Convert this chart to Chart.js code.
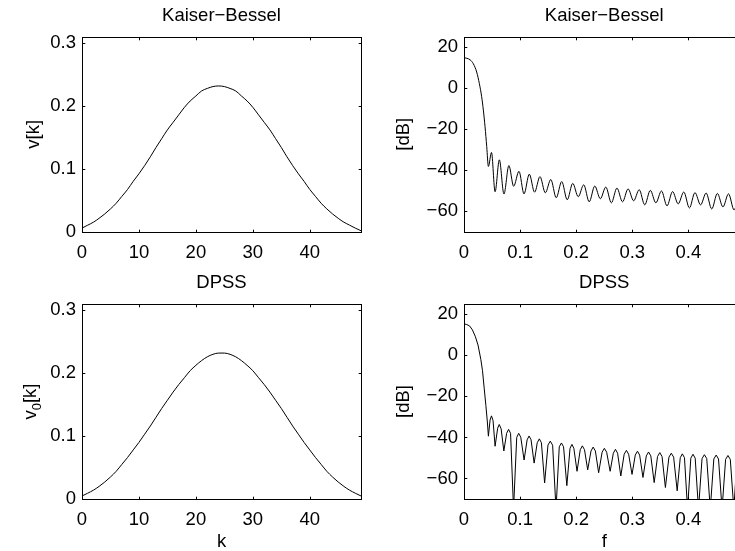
<!DOCTYPE html>
<html>
<head>
<meta charset="utf-8">
<script src="https://cdn.jsdelivr.net/npm/chart.js@4.4.1/dist/chart.umd.min.js"></script>
<style>
html, body { margin: 0; padding: 0; width: 735px; height: 551px; overflow: hidden; background: #fff; }
canvas { position: absolute; left: 0; top: 0; }
</style>
</head>
<body>
<canvas id="kbWin" width="760" height="551"></canvas>
<canvas id="kbSpec" width="760" height="551"></canvas>
<canvas id="dpssWin" width="760" height="551"></canvas>
<canvas id="dpssSpec" width="760" height="551"></canvas>
<script>
// Window samples v[k], k = 0..49
const kbWindow = [0.0054, 0.0101, 0.0148, 0.021, 0.028, 0.036, 0.045, 0.056, 0.067, 0.080,
  0.092, 0.105, 0.119, 0.134, 0.148, 0.162, 0.174, 0.186, 0.198, 0.208,
  0.216, 0.224, 0.228, 0.231, 0.232, 0.231, 0.228, 0.224, 0.216, 0.208,
  0.198, 0.186, 0.174, 0.162, 0.148, 0.134, 0.119, 0.105, 0.092, 0.080,
  0.067, 0.056, 0.045, 0.036, 0.028, 0.021, 0.0148, 0.0101, 0.0054, 0.0012];
const dpssWindow = [0.0048, 0.0092, 0.014, 0.020, 0.027, 0.035, 0.044, 0.055, 0.066, 0.078,
  0.090, 0.103, 0.116, 0.130, 0.144, 0.157, 0.170, 0.182, 0.193, 0.204,
  0.2125, 0.220, 0.226, 0.230, 0.232, 0.232, 0.230, 0.226, 0.220, 0.2125,
  0.204, 0.193, 0.182, 0.170, 0.157, 0.144, 0.130, 0.116, 0.103, 0.090,
  0.078, 0.066, 0.055, 0.044, 0.035, 0.027, 0.020, 0.014, 0.0092, 0.0048];

// Magnitude responses in dB
const kbFreq = [0, 0.005, 0.0107, 0.0167, 0.0226, 0.0274, 0.0315, 0.0345, 0.0375, 0.0405, 0.0435,
  0.049, 0.0554, 0.063, 0.0712, 0.080, 0.0885, 0.098, 0.107, 0.1164, 0.1258,
  0.1354, 0.145, 0.1547, 0.1644, 0.1742, 0.184, 0.1938, 0.2036, 0.2134, 0.2232,
  0.2331, 0.243, 0.2528, 0.2627, 0.2726, 0.2826, 0.2925, 0.3024, 0.3123, 0.3222,
  0.3321, 0.342, 0.352, 0.3619, 0.3718, 0.3818, 0.3918, 0.4018, 0.4117, 0.4217,
  0.4316, 0.4416, 0.4516, 0.4616, 0.4715, 0.4815, 0.4915, 0.5];
const kbDb = [14.9, 14.6, 13.9, 11.9, 7.9, 2.2, -4.2, -10.7, -18.8, -28.5, -38.2,
  -31.4, -50.6, -35.0, -51.7, -37.8, -47.9, -40.6, -51.6, -42.0, -50.8,
  -43.2, -51.1, -44.6, -53.5, -45.6, -54.5, -46.5, -53.0, -47.2, -55.5,
  -47.8, -54.0, -48.3, -56.0, -48.8, -55.5, -49.2, -55.0, -49.6, -57.0,
  -49.9, -56.0, -50.2, -57.5, -50.5, -56.5, -50.7, -58.5, -51.0, -57.0,
  -51.2, -59.0, -51.4, -58.0, -51.6, -59.5, -51.8, -56.0];

const dpssFreq = [0, 0.005, 0.01, 0.015, 0.02, 0.025, 0.03, 0.033, 0.036, 0.039, 0.0415, 0.0435,
  0.0465, 0.049, 0.0518, 0.0554,
  0.060, 0.0628, 0.0662, 0.071,
  0.076, 0.0795, 0.083, 0.0883,
  0.094, 0.0975, 0.1012, 0.1071,
  0.1125, 0.116, 0.1195, 0.125,
  0.1305, 0.1343, 0.138, 0.1437,
  0.1497, 0.1538, 0.158, 0.164,
  0.1698, 0.1737, 0.1775, 0.1833,
  0.189, 0.1924, 0.1958, 0.2015,
  0.2072, 0.211, 0.2148, 0.2205,
  0.2264, 0.2302, 0.2342, 0.240,
  0.2462, 0.2502, 0.2543, 0.2605,
  0.2662, 0.270, 0.2738, 0.2795,
  0.2855, 0.2895, 0.2935, 0.2995,
  0.3053, 0.3092, 0.3131, 0.319,
  0.325, 0.329, 0.333, 0.339,
  0.345, 0.349, 0.353, 0.359,
  0.3653, 0.3695, 0.3737, 0.380,
  0.3855, 0.3892, 0.393, 0.3985,
  0.4043, 0.4082, 0.4121, 0.418,
  0.4243, 0.4285, 0.4327, 0.439,
  0.4453, 0.4495, 0.4537, 0.460,
  0.4663, 0.4705, 0.4747, 0.481,
  0.4865, 0.4905, 0.4945, 0.5];
const dpssDb = [15.3, 15.0, 14.3, 12.4, 9.3, 5.0, -2.0, -7.5, -16.0, -24.5, -32.0, -39.4,
  -31.5, -29.5, -31.8, -44.3,
  -35.5, -33.7, -35.8, -46.6,
  -38.0, -36.1, -38.0, -75,
  -40.0, -38.0, -39.9, -51.0,
  -41.2, -39.3, -41.1, -52.5,
  -42.6, -40.7, -42.6, -62.2,
  -43.7, -41.8, -43.8, -75,
  -44.6, -42.7, -44.6, -63.5,
  -45.3, -43.4, -45.3, -56.5,
  -46.0, -44.1, -46.0, -55.8,
  -46.6, -44.7, -46.6, -57.2,
  -47.2, -45.3, -47.2, -56.5,
  -47.7, -45.8, -47.7, -58.8,
  -48.2, -46.3, -48.2, -58.0,
  -48.6, -46.7, -48.6, -59.5,
  -49.0, -47.1, -49.0, -62.0,
  -49.3, -47.4, -49.3, -64.4,
  -49.6, -47.7, -49.6, -66.0,
  -49.9, -48.0, -49.9, -75,
  -50.1, -48.2, -50.1, -75,
  -50.3, -48.4, -50.3, -75,
  -50.5, -48.6, -50.5, -75,
  -50.7, -48.8, -50.7, -75,
  -50.9, -49.0, -50.9, -62];

// Tick values
const kTicks = [0, 10, 20, 30, 40];
const vTicks = [0, 0.1, 0.2, 0.3];
const fTicks = [0, 0.1, 0.2, 0.3, 0.4];
const dbTicks = [-60, -40, -20, 0, 20];

const FONT = "'Liberation Sans', Arial, Helvetica, sans-serif";
const FONT_SIZE = 18.5;
const TICK_LEN = 2.8;
const CANVAS_W = 760, CANVAS_H = 551;
const Y_W = 60, X_H = 30;

Chart.defaults.font.family = FONT;
Chart.defaults.font.size = FONT_SIZE;
Chart.defaults.color = '#000';

function fmtNum(v) {
    if (v === 0) return '0';
    const s = Number.isInteger(v) ? String(Math.abs(v)) : Math.abs(v).toFixed(1);
    return (v < 0 ? '\u2212' : '') + s;
}

const crisp = v => Math.round(v) + 0.5;

// MATLAB style box, inward ticks, title and axis labels
const matlabAxes = {
    id: 'matlabAxes',
    afterDraw(chart, args, opts) {
        const { ctx, chartArea: a } = chart;
        const xs = chart.scales.x, ys = chart.scales.y;
        const L = crisp(a.left), R = crisp(a.right), T = crisp(a.top), B = crisp(a.bottom);
        ctx.save();
        ctx.strokeStyle = '#000';
        ctx.lineWidth = 1;
        ctx.strokeRect(L, T, R - L, B - T);
        ctx.beginPath();
        xs.ticks.forEach(t => {
            const px = crisp(xs.getPixelForValue(t.value));
            ctx.moveTo(px, B); ctx.lineTo(px, B - TICK_LEN);
            ctx.moveTo(px, T); ctx.lineTo(px, T + TICK_LEN);
        });
        ys.ticks.forEach(t => {
            const py = crisp(ys.getPixelForValue(t.value));
            ctx.moveTo(L, py); ctx.lineTo(L + TICK_LEN, py);
            ctx.moveTo(R, py); ctx.lineTo(R - TICK_LEN, py);
        });
        ctx.stroke();

        ctx.fillStyle = '#000';
        ctx.font = FONT_SIZE + 'px ' + FONT;
        ctx.textAlign = 'center';
        ctx.textBaseline = 'alphabetic';
        const cx = (a.left + a.right) / 2;
        ctx.fillText(opts.title, cx, a.top - 16.5);
        if (opts.xlabel) ctx.fillText(opts.xlabel, cx, a.bottom + 48);

        // rotated y label, parts may be subscripts
        ctx.translate(opts.ylabelX, (a.top + a.bottom) / 2);
        ctx.rotate(-Math.PI / 2);
        ctx.textAlign = 'left';
        ctx.textBaseline = 'middle';
        const subFont = Math.round(FONT_SIZE * 0.72) + 'px ' + FONT;
        const mainFont = FONT_SIZE + 'px ' + FONT;
        const widths = opts.ylabel.map(p => {
            ctx.font = p.sub ? subFont : mainFont;
            return ctx.measureText(p.text).width;
        });
        let x = -widths.reduce((s, w) => s + w, 0) / 2;
        opts.ylabel.forEach((p, i) => {
            ctx.font = p.sub ? subFont : mainFont;
            ctx.fillText(p.text, x, p.sub ? 6 : 0);
            x += widths[i];
        });
        ctx.restore();
    }
};

function makeChart(id, box, points, xr, yr, xTickVals, yTickVals, lineOpts, labels) {
    return new Chart(document.getElementById(id), {
        type: 'line',
        data: {
            datasets: [Object.assign({
                data: points,
                borderColor: '#000',
                borderWidth: 1,
                pointRadius: 0,
                fill: false
            }, lineOpts)]
        },
        options: {
            responsive: false,
            animation: false,
            events: [],
            layout: {
                padding: {
                    left: box.l - Y_W,
                    right: CANVAS_W - box.r,
                    top: box.t,
                    bottom: CANVAS_H - box.b - X_H
                }
            },
            plugins: {
                legend: { display: false },
                tooltip: { enabled: false },
                matlabAxes: labels
            },
            scales: {
                x: {
                    type: 'linear',
                    min: xr[0], max: xr[1],
                    afterFit: s => { s.height = X_H; },
                    afterBuildTicks: s => { s.ticks = xTickVals.map(v => ({ value: v })); },
                    grid: { display: false, drawTicks: false },
                    border: { display: false },
                    ticks: { autoSkip: false, maxRotation: 0, padding: 10, callback: fmtNum }
                },
                y: {
                    type: 'linear',
                    min: yr[0], max: yr[1],
                    afterFit: s => { s.width = Y_W; },
                    afterBuildTicks: s => { s.ticks = yTickVals.map(v => ({ value: v })); },
                    grid: { display: false, drawTicks: false },
                    border: { display: false },
                    ticks: { autoSkip: false, padding: 6, callback: fmtNum }
                }
            }
        },
        plugins: [matlabAxes]
    });
}

const toPoints = (xs, ys) => xs.map((x, i) => ({ x: x, y: ys[i] }));
const winPoints = w => w.map((v, k) => ({ x: k, y: v }));

const leftTop = { l: 82, r: 361, t: 37, b: 231.5 };
const rightTop = { l: 464, r: 744.5, t: 37, b: 231.5 };
const leftBot = { l: 82, r: 361, t: 304, b: 499 };
const rightBot = { l: 464, r: 744.5, t: 304, b: 499 };

makeChart('kbWin', leftTop, winPoints(kbWindow), [0, 49], [0, 0.31], kTicks, vTicks,
    { cubicInterpolationMode: 'monotone' },
    { title: 'Kaiser\u2212Bessel', ylabelX: 34, ylabel: [{ text: 'v[k]' }] });

makeChart('kbSpec', rightTop, toPoints(kbFreq, kbDb), [0, 0.5], [-70, 25], fTicks, dbTicks,
    { cubicInterpolationMode: 'monotone' },
    { title: 'Kaiser\u2212Bessel', ylabelX: 404, ylabel: [{ text: '[dB]' }] });

makeChart('dpssWin', leftBot, winPoints(dpssWindow), [0, 49], [0, 0.31], kTicks, vTicks,
    { cubicInterpolationMode: 'monotone' },
    { title: 'DPSS', xlabel: 'k', ylabelX: 31, ylabel: [{ text: 'v' }, { text: '0', sub: true }, { text: '[k]' }] });

makeChart('dpssSpec', rightBot, toPoints(dpssFreq, dpssDb), [0, 0.5], [-70, 25], fTicks, dbTicks,
    { tension: 0 },
    { title: 'DPSS', xlabel: 'f', ylabelX: 404, ylabel: [{ text: '[dB]' }] });
</script>
</body>
</html>
